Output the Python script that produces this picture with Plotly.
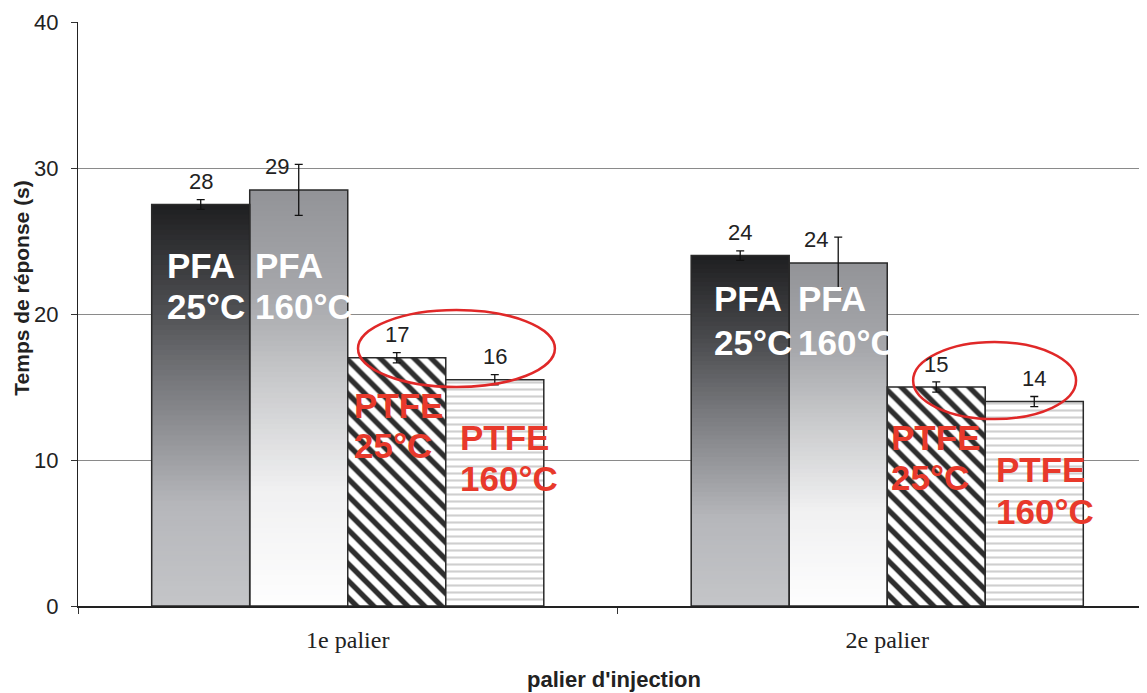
import plotly.graph_objects as go

# ---------------- data ----------------
categories = ["1e palier", "2e palier"]
series_names = ["PFA 25°C", "PFA 160°C", "PTFE 25°C", "PTFE 160°C"]
pfa_25 = [27.5, 24.0]
pfa_160 = [28.5, 23.5]
ptfe_25 = [17.0, 15.0]
ptfe_160 = [15.5, 14.0]
err_pfa_25 = [0.33, 0.33]
err_pfa_160 = [1.75, 1.76]
err_ptfe_25 = [0.35, 0.35]
err_ptfe_160 = [0.35, 0.35]
labels_pfa_25 = ["28", "24"]
labels_pfa_160 = ["29", "24"]
labels_ptfe_25 = ["17", "15"]
labels_ptfe_160 = ["16", "14"]
y_ticks = [0, 10, 20, 30, 40]

values = [pfa_25, pfa_160, ptfe_25, ptfe_160]
errors = [err_pfa_25, err_pfa_160, err_ptfe_25, err_ptfe_160]
value_labels = [labels_pfa_25, labels_pfa_160, labels_ptfe_25, labels_ptfe_160]
inbar_line1 = ["PFA", "PFA", "PTFE", "PTFE"]
inbar_line2 = ["25°C", "160°C", "25°C", "160°C"]

# ---------------- style ----------------
W = 0.1817
offsets = [-2 * W, -W, 0.0, W]
label_xshift = [0, -22, 0, 0]
N_SEG = 80

grad_stops = {
    0: [(0.0, (196, 197, 200)), (0.25, (182, 183, 187)), (0.56, (119, 120, 124)),
        (0.76, (74, 75, 78)), (1.0, (30, 30, 32))],
    1: [(0.0, (254, 254, 254)), (0.28, (240, 240, 241)), (0.544, (200, 201, 203)),
        (0.735, (168, 169, 173)), (1.0, (146, 147, 151))],
}


def interp(stops, t):
    for (t0, c0), (t1, c1) in zip(stops[:-1], stops[1:]):
        if t0 <= t <= t1:
            f = (t - t0) / (t1 - t0)
            c = [round(a + (b - a) * f) for a, b in zip(c0, c1)]
            return "rgb(%d,%d,%d)" % tuple(c)
    c = stops[-1][1]
    return "rgb(%d,%d,%d)" % tuple(c)


fig = go.Figure()

# gradient fills for PFA series: nested bars from 0, tallest first
for i in (0, 1):
    xs, hs, cols = [], [], []
    for j, cat in enumerate(categories):
        v = values[i][j]
        for k in range(N_SEG, 0, -1):
            xs.append(cat)
            hs.append(v * k / N_SEG)
            cols.append(interp(grad_stops[i], (k - 0.5) / N_SEG))
    fig.add_trace(go.Bar(x=xs, y=hs, offset=offsets[i], width=W,
                         marker=dict(color=cols, line=dict(width=0)),
                         hoverinfo="skip", showlegend=False))

err_style = dict(type="data", color="#111111", thickness=1.3, width=4)

# PFA outlines + error bars
for i in (0, 1):
    fig.add_trace(go.Bar(x=categories, y=values[i], offset=offsets[i], width=W,
                         name=series_names[i],
                         marker=dict(color="rgba(0,0,0,0)", line=dict(color="#2a2a2a", width=1.5)),
                         error_y=dict(array=errors[i], **err_style), showlegend=False))

# PTFE patterned bars
fig.add_trace(go.Bar(x=categories, y=ptfe_25, offset=offsets[2], width=W, name=series_names[2],
                     marker=dict(color="white",
                                 pattern=dict(shape="\\", fgcolor="#2e2e2e", bgcolor="white",
                                              fgopacity=1, fillmode="replace",
                                              size=12, solidity=0.45),
                                 line=dict(color="#2a2a2a", width=1.5)),
                     error_y=dict(array=err_ptfe_25, **err_style), showlegend=False))
fig.add_trace(go.Bar(x=categories, y=ptfe_160, offset=offsets[3], width=W, name=series_names[3],
                     marker=dict(color="white",
                                 pattern=dict(shape="-", fgcolor="#cfcfcf", bgcolor="white",
                                              fgopacity=1, fillmode="replace",
                                              size=7, solidity=0.3),
                                 line=dict(color="#2a2a2a", width=1.5)),
                     error_y=dict(array=err_ptfe_160, **err_style), showlegend=False))

annotations = []
# value labels
for i in range(4):
    for j in range(len(categories)):
        annotations.append(dict(x=j + offsets[i] + W / 2, y=values[i][j], xref="x", yref="y",
                                text=value_labels[i][j], showarrow=False, yanchor="middle",
                                yshift=23, xshift=label_xshift[i],
                                font=dict(family="Liberation Sans, Arial", size=22, color="#222222")))

# in-bar labels (left x in axis units, y centers of two lines)
inbar_pos = [
    [(-0.3387, 23.29, 20.48), (0.6752, 21.03, 18.08)],
    [(-0.1756, 23.29, 20.48), (0.8309, 21.03, 18.08)],
    [(0.0079, 13.70, 10.96), (1.0033, 11.51, 8.77)],
    [(0.2044, 11.51, 8.70), (1.1979, 9.32, 6.44)],
]
inbar_color = ["white", "white", "#e8392b", "#e8392b"]
for i in range(4):
    for j in range(len(categories)):
        xx, y1, y2 = inbar_pos[i][j]
        for txt, yy in ((inbar_line1[i], y1), (inbar_line2[i], y2)):
            annotations.append(dict(x=xx, y=yy, xref="x", yref="y", text="<b>%s</b>" % txt,
                                    showarrow=False, xanchor="left", yanchor="middle",
                                    font=dict(family="Liberation Sans, Arial", size=35,
                                              color=inbar_color[i])))

# axis titles
annotations.append(dict(x=-0.0524, y=0.545, xref="paper", yref="paper",
                        text="<b>Temps de réponse (s)</b>", textangle=-90, showarrow=False,
                        xanchor="center", yanchor="middle",
                        font=dict(family="Liberation Sans, Arial", size=21, color="#222222")))
annotations.append(dict(x=0.501, y=-0.1267, xref="paper", yref="paper",
                        text="<b>palier d'injection</b>", showarrow=False,
                        xanchor="center", yanchor="middle",
                        font=dict(family="Liberation Sans, Arial", size=22, color="#222222")))

shapes = [
    dict(type="circle", xref="x", yref="y", x0=0.019, x1=0.384, y0=15.0, y1=20.27,
         line=dict(color="#e02828", width=2.5)),
    dict(type="circle", xref="x", yref="y", x0=1.048, x1=1.350, y0=12.8, y1=18.08,
         line=dict(color="#e02828", width=2.5)),
]

# the page body adds an 8px offset, so the figure is 8px smaller and margins shifted
fig.update_layout(
    width=1139, height=685,
    margin=dict(l=70, r=0, t=14, b=87),
    paper_bgcolor="white", plot_bgcolor="white",
    barmode="overlay",
    showlegend=False,
    annotations=annotations,
    shapes=shapes,
    xaxis=dict(type="category", range=[-0.5, 1.4815], tickson="boundaries",
               ticks="outside", ticklen=6, tickcolor="#333333", tickwidth=1,
               showline=True, linecolor="#222222", linewidth=1.5, showgrid=False,
               tickfont=dict(family="Liberation Serif, Times New Roman", size=24, color="#222222"),
               ticklabelstandoff=11),
    yaxis=dict(range=[0, 40], tickvals=y_ticks, ticks="outside", ticklen=6,
               tickcolor="#333333", showline=True, linecolor="#222222", linewidth=1,
               showgrid=True, gridcolor="#8a8a8a", gridwidth=1, zeroline=False,
               tickfont=dict(family="Liberation Sans, Arial", size=22, color="#222222"),
               ticklabelstandoff=8),
)

fig.write_html("out.html")
